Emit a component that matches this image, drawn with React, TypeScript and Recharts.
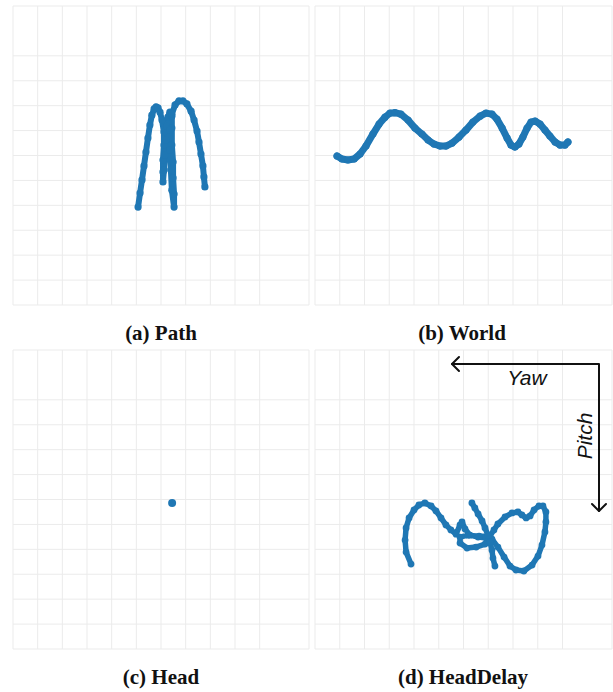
import React from 'react'
import { ScatterChart, Scatter, CartesianGrid, XAxis, YAxis } from 'recharts'

const BLUE = '#1f77b4'
const TICKS = [0, 1, 2, 3, 4, 5, 6, 7, 8, 9, 10, 11, 12]

// (a) Path
const pathX = [5.07, 5.15, 5.23, 5.31, 5.39, 5.47, 5.55, 5.63, 5.72, 5.8, 5.88, 5.96, 6.04, 6.12, 6.12, 6.08, 6.08, 6.08,
  6.12, 6.16, 6.2, 6.24, 6.28, 6.36, 6.44, 6.44, 6.44, 6.49, 6.49, 6.53, 6.53,
  6.44, 6.4, 6.36, 6.36, 6.44, 6.57, 6.73, 6.89, 7.05, 7.22, 7.34, 7.46, 7.54, 7.62, 7.7, 7.74, 7.78]
const pathY = [3.93, 4.49, 5.02, 5.58, 6.14, 6.7, 7.22, 7.62, 7.87, 7.95, 7.91, 7.74, 7.42, 6.94, 6.42, 5.82, 5.34, 4.94,
  5.42, 6.02, 6.62, 7.18, 7.54, 7.74, 7.58, 7.1, 6.42, 5.74, 5.1, 4.45, 3.93,
  4.61, 5.42, 6.22, 7.02, 7.66, 8.03, 8.19, 8.19, 8.07, 7.78, 7.42, 6.98, 6.54, 6.06, 5.58, 5.14, 4.74]

// (b) World
const worldX = [0.89, 1.09, 1.33, 1.58, 1.82, 2.06, 2.34, 2.59, 2.83, 3.03, 3.23, 3.47, 3.76, 4.04, 4.32, 4.57, 4.81,
  5.05, 5.29, 5.54, 5.82, 6.1, 6.38, 6.67, 6.91, 7.15, 7.35, 7.56, 7.76, 7.92, 8.08, 8.24, 8.4, 8.57, 8.73, 8.89,
  9.09, 9.29, 9.49, 9.7, 9.9, 10.1, 10.22]
const worldY = [5.98, 5.86, 5.82, 5.86, 6.06, 6.38, 6.86, 7.26, 7.54, 7.7, 7.72, 7.66, 7.42, 7.1, 6.86, 6.62, 6.46,
  6.38, 6.38, 6.5, 6.74, 7.02, 7.34, 7.58, 7.7, 7.66, 7.46, 7.1, 6.7, 6.42, 6.34, 6.46, 6.74, 7.1, 7.34, 7.38,
  7.26, 7.02, 6.78, 6.54, 6.42, 6.42, 6.54]

// (c) Head
const headX = [6.45]
const headY = [5.86]

// (d) HeadDelay
const delayX = [3.88, 3.68, 3.64, 3.68, 3.8, 4.0, 4.2, 4.44, 4.69, 4.89, 5.09, 5.29, 5.49, 5.7, 5.86, 5.94, 6.06, 6.26,
  6.59, 6.91, 7.15, 6.87, 6.51, 6.14, 5.86, 5.86, 6.18, 6.63, 7.07, 7.23, 7.39, 7.68, 7.96, 8.2, 8.36, 8.53, 8.69,
  8.85, 9.05, 9.21, 9.33, 9.33, 9.29, 9.17, 9.01, 8.77, 8.44, 8.12, 7.88, 7.64, 7.39, 7.15]
const delayY = [3.41, 3.89, 4.37, 4.86, 5.26, 5.58, 5.78, 5.86, 5.74, 5.54, 5.26, 4.98, 4.78, 4.61, 4.98, 5.1, 4.82, 4.57,
  4.49, 4.45, 4.37, 4.21, 4.09, 4.05, 4.25, 4.49, 4.57, 4.53, 4.53, 4.78, 5.02, 5.3, 5.46, 5.5, 5.38, 5.26, 5.34,
  5.58, 5.74, 5.74, 5.5, 5.1, 4.7, 4.17, 3.73, 3.37, 3.13, 3.17, 3.33, 3.69, 4.09, 4.41]
const strandX = [6.34, 6.46, 6.59, 6.75, 6.87, 6.99, 7.07, 7.15, 7.19, 7.27]
const strandY = [5.86, 5.66, 5.42, 5.14, 4.86, 4.57, 4.29, 3.97, 3.65, 3.33]

const zip = (xs: number[], ys: number[]) => xs.map((x, i) => ({ x, y: ys[i] }))

type PanelProps = { left: number; top: number; width: number; series: { x: number; y: number }[][]; r: number; lw: number }

const Panel = ({ left, top, width, series, r, lw }: PanelProps) => (
  <div style={{ position: 'absolute', left, top }}>
    <ScatterChart width={width} height={301} margin={{ top: 1, right: 1, bottom: 1, left: 1 }}>
      <CartesianGrid stroke="#ebebeb" strokeWidth={1} />
      <XAxis type="number" dataKey="x" domain={[0, 12]} ticks={TICKS} hide />
      <YAxis type="number" dataKey="y" domain={[0, 12]} ticks={TICKS} hide />
      {series.map((d, i) => (
        <Scatter
          key={i}
          data={d}
          fill={BLUE}
          line={lw > 0 ? { stroke: BLUE, strokeWidth: lw, strokeLinejoin: 'round', strokeLinecap: 'round' } : false}
          shape={(p: any) => <circle cx={p.cx} cy={p.cy} r={r} fill={BLUE} />}
          isAnimationActive={false}
        />
      ))}
    </ScatterChart>
  </div>
)

const captionStyle = { fontFamily: '"Liberation Serif", serif', fontWeight: 700, fontSize: 21, fill: '#111' }
const noteStyle = { fontFamily: '"Liberation Sans", sans-serif', fontStyle: 'italic', fontSize: 21, fill: '#111' }

export default function App() {
  return (
    <div style={{ position: 'absolute', left: 0, top: 0, width: 613, height: 692, background: '#fff', overflow: 'hidden' }}>
      <Panel left={12} top={5} width={298} series={[zip(pathX, pathY)]} r={3.6} lw={6} />
      <Panel left={314} top={5} width={299} series={[zip(worldX, worldY)]} r={3.6} lw={7} />
      <Panel left={12} top={349} width={298} series={[zip(headX, headY)]} r={4} lw={0} />
      <Panel left={314} top={349} width={299} series={[zip(delayX, delayY), zip(strandX, strandY)]} r={3.4} lw={5.5} />
      <svg width={613} height={692} style={{ position: 'absolute', left: 0, top: 0, pointerEvents: 'none' }}>
        <text x={161} y={340} textAnchor="middle" style={captionStyle}>(a) Path</text>
        <text x={462} y={340} textAnchor="middle" style={captionStyle}>(b) World</text>
        <text x={161} y={684} textAnchor="middle" style={captionStyle}>(c) Head</text>
        <text x={463} y={684} textAnchor="middle" style={captionStyle}>(d) HeadDelay</text>
        <g stroke="#111" strokeWidth={2} fill="none" strokeLinecap="round" strokeLinejoin="round">
          <polyline points="452,364 599,364 599,511" />
          <polyline points="459,357 452,364 459,371" />
          <polyline points="592,504 599,511 606,504" />
        </g>
        <text x={527} y={385} textAnchor="middle" style={noteStyle}>Yaw</text>
        <text transform="translate(592,436) rotate(-90)" textAnchor="middle" style={noteStyle}>Pitch</text>
      </svg>
    </div>
  )
}
